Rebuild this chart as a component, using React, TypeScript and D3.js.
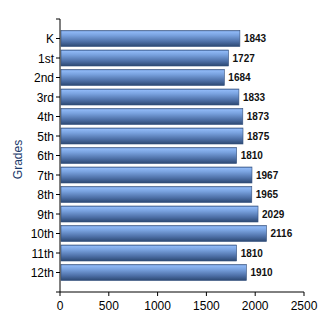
import React from "react";
import * as d3 from "d3";

const categories = ["K", "1st", "2nd", "3rd", "4th", "5th", "6th", "7th", "8th", "9th", "10th", "11th", "12th"];
const values = [1843, 1727, 1684, 1833, 1873, 1875, 1810, 1967, 1965, 2029, 2116, 1810, 1910];
const xTicks = [0, 500, 1000, 1500, 2000, 2500];
const yTitle = "Grades";

export default function App() {
  const W = 330, H = 330;
  const left = 60, right = 304, top = 19, bottom = 292;
  const x = d3.scaleLinear().domain([0, 2500]).range([left, right]);
  const step = (bottom - top) / (categories.length + 1);
  const y = d3.scalePoint<string>().domain(categories).range([top + step, bottom - step]);
  const barH = 16;
  const boundaries = d3.range(categories.length + 2).map((i) => top + i * step);
  return (
    <svg width={W} height={H} style={{ position: "absolute", left: 0, top: 0 }} fontFamily="Liberation Sans, Arial, sans-serif">
      <defs>
        <linearGradient id="barGrad" x1="0" y1="0" x2="0" y2="1">
          <stop offset="0" stopColor="#4f74ad" />
          <stop offset="0.08" stopColor="#8fb8f5" />
          <stop offset="0.3" stopColor="#79a2df" />
          <stop offset="0.7" stopColor="#4d6fa6" />
          <stop offset="1" stopColor="#2c4872" />
        </linearGradient>
      </defs>
      <rect width={W} height={H} fill="#fff" />
      {categories.map((c, i) => (
        <g key={c}>
          <rect x={x(0) + 1} y={(y(c) as number) - barH / 2} width={x(values[i]) - x(0) - 1} height={barH} fill="url(#barGrad)" stroke="#34507d" strokeWidth={0.6} />
          <text x={x(values[i]) + 4} y={(y(c) as number) + 3.5} fontSize={10} fontWeight="bold" fill="#111">{values[i]}</text>
          <line x1={left - 4} x2={left} y1={y(c)} y2={y(c)} stroke="#000" />
          <text x={left - 6} y={(y(c) as number) + 4.5} fontSize={12} textAnchor="end" fill="#000">{c}</text>
        </g>
      ))}
      {[boundaries[0], boundaries[boundaries.length - 1]].map((b, i) => (
        <line key={i} x1={left - 4} x2={left} y1={b} y2={b} stroke="#000" />
      ))}
      <line x1={left} x2={left} y1={top} y2={bottom} stroke="#000" />
      <line x1={left} x2={right} y1={bottom} y2={bottom} stroke="#000" />
      {xTicks.map((t) => (
        <g key={t}>
          <line x1={x(t)} x2={x(t)} y1={bottom} y2={bottom + 4} stroke="#000" />
          <text x={x(t)} y={310} fontSize={12} textAnchor="middle" fill="#000">{t}</text>
        </g>
      ))}
      <text transform={`translate(22,${(top + bottom) / 2 + 4}) rotate(-90)`} fontSize={12} textAnchor="middle" fill="#1b3a6b">{yTitle}</text>
    </svg>
  );
}
